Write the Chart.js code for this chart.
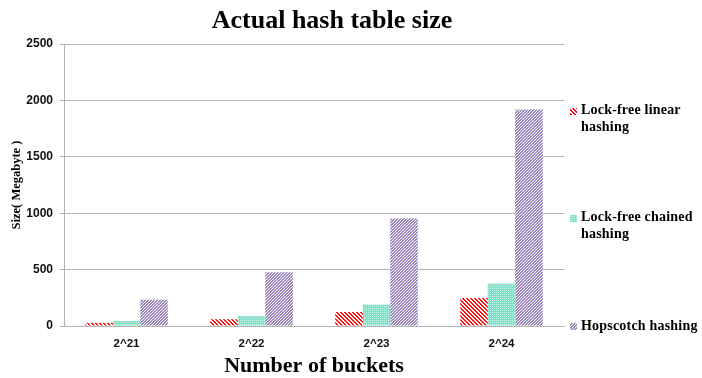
<!DOCTYPE html>
<html>
<head>
<meta charset="utf-8">
<script src="https://cdn.jsdelivr.net/npm/chart.js@4/dist/chart.umd.min.js"></script>
<style>
  html, body { margin: 0; padding: 0; background: #ffffff; }
  #wrap { width: 702px; height: 378px; }
</style>
</head>
<body>
<div id="wrap"><canvas id="c" width="702" height="378"></canvas></div>
<script>
// Bucket counts on the x axis
const buckets = ['2^21', '2^22', '2^23', '2^24'];
// Table sizes in megabytes
const linearSizes = [28, 60, 124, 248];
const chainedSizes = [44, 90, 190, 376];
const hopscotchSizes = [233, 476, 952, 1920];
const seriesNames = ['Lock-free linear hashing', 'Lock-free chained hashing', 'Hopscotch hashing'];
const yTicks = [0, 500, 1000, 1500, 2000, 2500];

// Hatched fills
function makePattern(size, painter) {
  const t = document.createElement('canvas');
  t.width = size; t.height = size;
  const g = t.getContext('2d');
  painter(g, size);
  return g.createPattern(t, 'repeat');
}
const redStripe = makePattern(4, (g, n) => {
  g.fillStyle = '#ffffff'; g.fillRect(0, 0, n, n);
  g.fillStyle = '#ff1010';
  for (let y = 0; y < n; y++) for (let x = 0; x < n; x++) {
    const d = ((x - y) % n + n) % n;
    if (d < 2) g.fillRect(x, y, 1, 1);
  }
});
const aquaDots = makePattern(2, (g, n) => {
  g.fillStyle = '#78e3c8'; g.fillRect(0, 0, n, n);
  g.fillStyle = '#c8f5ea'; g.fillRect(0, 0, 1, 1);
});
const purpleStripe = makePattern(3, (g, n) => {
  g.fillStyle = '#ffffff'; g.fillRect(0, 0, n, n);
  g.fillStyle = '#9a86bd';
  for (let y = 0; y < n; y++) for (let x = 0; x < n; x++) {
    const d = (x + y) % n;
    if (d < 2) g.fillRect(x, y, 1, 1);
  }
});
const fills = [redStripe, aquaDots, purpleStripe];

// Title and wrapped side legend
const decorations = {
  id: 'decorations',
  afterDraw(chart) {
    const ctx = chart.ctx;
    ctx.save();
    ctx.fillStyle = '#000000';
    ctx.textAlign = 'center';
    ctx.textBaseline = 'alphabetic';
    ctx.font = 'bold 26px "Liberation Serif"';
    ctx.fillText('Actual hash table size', 332, 28);

    const items = [
      { lines: ['Lock-free linear', 'hashing'], y: 110.5 },
      { lines: ['Lock-free chained', 'hashing'], y: 217.5 },
      { lines: ['Hopscotch hashing'], y: 326 }
    ];
    ctx.font = 'bold 14px "Liberation Serif"';
    ctx.textAlign = 'left';
    ctx.textBaseline = 'middle';
    if ('letterSpacing' in ctx) ctx.letterSpacing = '0.2px';
    items.forEach((it, i) => {
      ctx.fillStyle = fills[i];
      ctx.fillRect(570, Math.round(it.y) - 3, 7, 7);
      ctx.fillStyle = '#000000';
      it.lines.forEach((ln, k) => ctx.fillText(ln, 581, it.y + k * 16.5));
    });
    ctx.restore();
  }
};

new Chart(document.getElementById('c'), {
  type: 'bar',
  data: {
    labels: buckets,
    datasets: [
      { label: seriesNames[0], data: linearSizes, backgroundColor: redStripe, borderWidth: 0 },
      { label: seriesNames[1], data: chainedSizes, backgroundColor: aquaDots, borderWidth: 0 },
      { label: seriesNames[2], data: hopscotchSizes, backgroundColor: purpleStripe, borderWidth: 0 }
    ]
  },
  options: {
    responsive: false,
    animation: false,
    layout: { padding: { top: 44, right: 138, left: 0, bottom: 0 } },
    datasets: { bar: { categoryPercentage: 0.66, barPercentage: 1.0 } },
    plugins: {
      legend: { display: false },
      title: { display: false },
      tooltip: { enabled: false }
    },
    scales: {
      x: {
        grid: { display: false, drawTicks: false },
        border: { display: true, color: '#b4b4b4', width: 1 },
        ticks: {
          color: '#111111',
          padding: 11,
          maxRotation: 0,
          font: { family: '"Liberation Sans"', size: 11.5, weight: 'bold' }
        },
        title: {
          display: true,
          text: 'Number of buckets',
          color: '#000000',
          padding: { top: 0, bottom: 1 },
          font: { family: '"Liberation Serif"', size: 22, weight: 'bold', lineHeight: 1 }
        },
        afterFit(scale) { scale.height = 52; }
      },
      y: {
        min: 0,
        max: 2500,
        afterBuildTicks(scale) { scale.ticks = yTicks.map(v => ({ value: v })); },
        grid: { color: '#b4b4b4', lineWidth: 1, drawTicks: true, tickLength: 4 },
        border: { display: true, color: '#b4b4b4', width: 1 },
        ticks: {
          color: '#111111',
          padding: 7,
          callback: (v) => String(v),
          font: { family: '"Liberation Sans"', size: 12, weight: 'bold' }
        },
        title: {
          display: true,
          text: 'Size( Megabyte )',
          color: '#000000',
          padding: { top: 9, bottom: 0 },
          font: { family: '"Liberation Serif"', size: 12.5, weight: 'bold' }
        },
        afterFit(scale) { scale.width = 64; }
      }
    }
  },
  plugins: [decorations]
});
</script>
</body>
</html>
